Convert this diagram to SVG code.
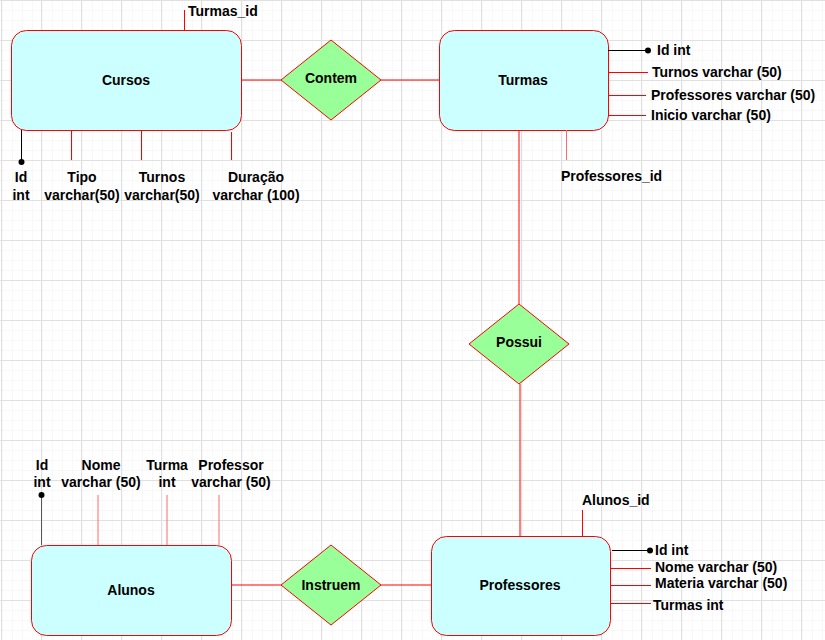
<svg xmlns="http://www.w3.org/2000/svg" width="825" height="640" viewBox="0 0 825 640">
<defs>
<pattern id="minor" width="10" height="10" patternUnits="userSpaceOnUse" x="1" y="0">
<path d="M0 0H10M0 0V10" fill="none" stroke="#f2f2f2" stroke-width="1"/>
</pattern>
<pattern id="major" width="40" height="40" patternUnits="userSpaceOnUse" x="1" y="0">
<rect width="40" height="40" fill="url(#minor)"/>
<path d="M0 0.5H40M0.5 0V40" fill="none" stroke="#e0e0e0" stroke-width="1"/>
</pattern>
<style>
.ent{fill:#ccffff;stroke:#ff0000;stroke-width:1}
.rel{fill:#99ff99;stroke:#ff0000;stroke-width:1}
.t{font-family:"Liberation Sans",Arial,sans-serif;font-weight:bold;font-size:14px;fill:#000}
.c{text-anchor:middle}
.r{stroke:#ff0000;stroke-width:1;fill:none}
.p{stroke:#ff6b6b;stroke-width:1;fill:none}
.k{stroke:#000;stroke-width:1;fill:none}
</style>
</defs>
<rect width="825" height="640" fill="#ffffff"/>
<rect width="825" height="640" fill="url(#major)"/>

<g id="connectors">
<line class="r" x1="241" y1="80" x2="281" y2="80"/>
<line class="r" x1="381" y1="80" x2="439" y2="80"/>
<line class="r" x1="519" y1="130" x2="519" y2="304"/>
<line class="r" x1="520" y1="384" x2="520" y2="536"/>
<line class="r" x1="231" y1="585" x2="281" y2="585"/>
<line class="r" x1="381" y1="585" x2="431" y2="585"/>
</g>

<g id="cursos">
<rect class="ent" x="11.5" y="30.5" width="230" height="100" rx="15"/>
<text class="t c" x="126" y="85">Cursos</text>
<line class="r" x1="184.5" y1="30" x2="184.5" y2="10"/>
<text class="t" x="188" y="16">Turmas_id</text>
<line class="k" x1="21.5" y1="130" x2="21.5" y2="162"/>
<circle cx="21.5" cy="162" r="3" fill="#000"/>
<text class="t c" x="21" y="182">Id</text>
<text class="t c" x="21" y="200">int</text>
<line class="r" x1="71.5" y1="130" x2="71.5" y2="160"/>
<text class="t c" x="82" y="182">Tipo</text>
<text class="t c" x="82" y="200">varchar(50)</text>
<line class="r" x1="141.5" y1="130" x2="141.5" y2="160"/>
<text class="t c" x="162" y="182">Turnos</text>
<text class="t c" x="162" y="200">varchar(50)</text>
<line class="r" x1="231.5" y1="132" x2="231.5" y2="160"/>
<text class="t c" x="256" y="182">Duração</text>
<text class="t c" x="256" y="200">varchar (100)</text>
</g>

<g id="contem">
<polygon class="rel" points="331,40 381,80 331,120 281,80"/>
<text class="t c" x="331" y="83">Contem</text>
</g>

<g id="turmas">
<rect class="ent" x="439.5" y="30.5" width="169" height="100" rx="15"/>
<text class="t c" x="523" y="85">Turmas</text>
<line class="k" x1="608" y1="50.5" x2="648" y2="50.5"/>
<circle cx="648" cy="50.5" r="3" fill="#000"/>
<text class="t" x="657" y="55">Id int</text>
<line class="r" x1="608" y1="72.5" x2="648" y2="72.5"/>
<text class="t" x="652" y="77">Turnos varchar (50)</text>
<line class="r" x1="608" y1="95.5" x2="646" y2="95.5"/>
<text class="t" x="651" y="100">Professores varchar (50)</text>
<line class="r" x1="608" y1="115.5" x2="646" y2="115.5"/>
<text class="t" x="651" y="120">Inicio varchar (50)</text>
<line class="p" x1="566.5" y1="130" x2="566.5" y2="160"/>
<text class="t" x="561" y="181">Professores_id</text>
</g>

<g id="possui">
<polygon class="rel" points="519,304 569,344 519,384 469,344"/>
<text class="t c" x="519" y="347">Possui</text>
</g>

<g id="alunos">
<rect class="ent" x="31.5" y="545.5" width="200" height="90" rx="15"/>
<text class="t c" x="131" y="595">Alunos</text>
<line x1="41.5" y1="545" x2="41.5" y2="495" stroke="#555" stroke-width="1"/>
<circle cx="41.5" cy="495" r="3" fill="#000"/>
<text class="t c" x="42" y="470">Id</text>
<text class="t c" x="42" y="487">int</text>
<line class="p" x1="98" y1="545" x2="98" y2="495"/>
<text class="t c" x="101" y="470">Nome</text>
<text class="t c" x="101" y="487">varchar (50)</text>
<line class="p" x1="167" y1="545" x2="167" y2="495"/>
<text class="t c" x="167" y="470">Turma</text>
<text class="t c" x="167" y="487">int</text>
<line class="p" x1="219" y1="545" x2="219" y2="495"/>
<text class="t c" x="231" y="470">Professor</text>
<text class="t c" x="231" y="487">varchar (50)</text>
</g>

<g id="instruem">
<polygon class="rel" points="331,545 381,585 331,625 281,585"/>
<text class="t c" x="331" y="590">Instruem</text>
</g>

<g id="professores">
<rect class="ent" x="431.5" y="536.5" width="179" height="99" rx="15"/>
<text class="t c" x="520" y="590">Professores</text>
<line class="r" x1="582.5" y1="536" x2="582.5" y2="510"/>
<text class="t" x="582" y="505">Alunos_id</text>
<line class="k" x1="612" y1="550.5" x2="650" y2="550.5"/>
<circle cx="650" cy="550.5" r="3" fill="#000"/>
<text class="t" x="655" y="555">Id int</text>
<line class="r" x1="610" y1="568.5" x2="651" y2="568.5"/>
<text class="t" x="655" y="572">Nome varchar (50)</text>
<line class="r" x1="610" y1="585.5" x2="651" y2="585.5"/>
<text class="t" x="655" y="588">Materia varchar (50)</text>
<line class="r" x1="611" y1="603.5" x2="651" y2="603.5"/>
<text class="t" x="653" y="610">Turmas int</text>
</g>
</svg>
